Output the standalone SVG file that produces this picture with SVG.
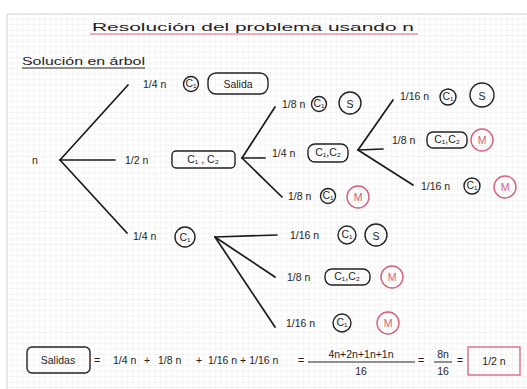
<svg xmlns="http://www.w3.org/2000/svg" width="527" height="389" viewBox="0 0 527 389">
<style>
.t{font-family:"Liberation Sans",Arial,sans-serif;fill:#1e1e1e;font-size:10.5px}
.tc{text-anchor:middle}
.ln{stroke:#1a1a1a;stroke-width:1.7;fill:none;stroke-linecap:round}
.c{fill:none;stroke:#222;stroke-width:1.4}
.m{fill:none;stroke:#d6607c;stroke-width:1.4}
.mt{fill:#d6607c}
.bx{fill:none;stroke:#222;stroke-width:1.4}
</style>
<defs>
<pattern id="grid" x="7" y="14" width="5.5" height="5.5" patternUnits="userSpaceOnUse">
<path d="M5.5 0V5.5H0" fill="none" stroke="#dedede" stroke-width="0.6"/>
</pattern>
</defs>
<rect width="527" height="389" fill="#fff"/>
<rect x="7" y="14" width="520" height="375" fill="url(#grid)"/>
<line x1="7" y1="14" x2="527" y2="14" stroke="#cfcfcf" stroke-width="1"/>
<line x1="7" y1="14" x2="7" y2="389" stroke="#cfcfcf" stroke-width="1"/>

<g id="title">
<text class="t" x="92" y="31" font-size="16" textLength="322" lengthAdjust="spacingAndGlyphs">Resolución del problema usando n</text>
<line x1="90" y1="34" x2="418" y2="34" stroke="#d6607c" stroke-width="1.2"/>
</g>
<g id="subtitle">
<text class="t" x="22" y="65" font-size="11" textLength="123" lengthAdjust="spacingAndGlyphs">Solución en árbol</text>
<line x1="22" y1="68" x2="145" y2="68" stroke="#222" stroke-width="1"/>
</g>

<g id="connectors">
<line class="ln" x1="60" y1="160" x2="128" y2="85"/>
<line class="ln" x1="60" y1="160" x2="115" y2="160"/>
<line class="ln" x1="60" y1="160" x2="127" y2="233"/>
<line class="ln" x1="242" y1="158" x2="275" y2="107"/>
<line class="ln" x1="242" y1="158" x2="265" y2="158"/>
<line class="ln" x1="242" y1="158" x2="282" y2="197"/>
<line class="ln" x1="358" y1="150" x2="393" y2="100"/>
<line class="ln" x1="358" y1="150" x2="383" y2="149"/>
<line class="ln" x1="358" y1="150" x2="413" y2="185"/>
<line class="ln" x1="215" y1="237" x2="277" y2="235"/>
<line class="ln" x1="215" y1="237" x2="275" y2="277"/>
<line class="ln" x1="215" y1="237" x2="275" y2="327"/>
</g>

<g id="root"><text class="t" x="32" y="164" font-size="13">n</text></g>

<g id="nA">
<text class="t" x="143" y="88">1/4 n</text>
<circle class="c" cx="191" cy="84" r="7.5"/><text class="t tc" x="191" y="87" font-size="8">C₁</text>
<rect class="bx" x="208" y="73" width="60" height="21" rx="8"/><text class="t tc" x="238" y="88" font-size="11">Salida</text>
</g>
<g id="nB">
<text class="t" x="125" y="164">1/2 n</text>
<rect class="bx" x="172" y="151" width="63" height="17" rx="4"/><text class="t tc" x="203" y="163" font-size="10">C₁ , C₂</text>
</g>
<g id="nC">
<text class="t" x="133" y="240">1/4 n</text>
<circle class="c" cx="185" cy="237" r="10"/><text class="t tc" x="185" y="241" font-size="9">C₁</text>
</g>

<g id="nB1">
<text class="t" x="282" y="108">1/8 n</text>
<circle class="c" cx="319" cy="104" r="7.5"/><text class="t tc" x="319" y="107" font-size="8">C₁</text>
<circle class="c" cx="350" cy="103" r="11"/><text class="t tc" x="350" y="108" font-size="13">S</text>
</g>
<g id="nB2">
<text class="t" x="272" y="157">1/4 n</text>
<rect class="bx" x="308" y="144" width="40" height="18" rx="7"/><text class="t tc" x="328" y="156" font-size="8.5">C₁,C₂</text>
</g>
<g id="nB3">
<text class="t" x="288" y="200">1/8 n</text>
<circle class="c" cx="328" cy="196" r="7.5"/><text class="t tc" x="328" y="199" font-size="8">C₁</text>
<circle class="m" cx="358" cy="197" r="11"/><text class="t tc mt" x="358" y="201" font-size="11">M</text>
</g>

<g id="nB2a">
<text class="t" x="400" y="100">1/16 n</text>
<circle class="c" cx="448" cy="97" r="8"/><text class="t tc" x="448" y="100" font-size="8">C₁</text>
<circle class="c" cx="482" cy="95" r="12"/><text class="t tc" x="482" y="100" font-size="14">S</text>
</g>
<g id="nB2b">
<text class="t" x="392" y="144">1/8 n</text>
<rect class="bx" x="427" y="132" width="40" height="16" rx="6"/><text class="t tc" x="447" y="143" font-size="8.5">C₁,C₂</text>
<circle class="m" cx="482" cy="140" r="11"/><text class="t tc mt" x="482" y="144" font-size="11">M</text>
</g>
<g id="nB2c">
<text class="t" x="421" y="190">1/16 n</text>
<circle class="c" cx="472" cy="186" r="8"/><text class="t tc" x="472" y="189" font-size="8">C₁</text>
<circle class="m" cx="505" cy="187" r="11"/><text class="t tc mt" x="505" y="191" font-size="11">M</text>
</g>

<g id="nC1">
<text class="t" x="290" y="239">1/16 n</text>
<circle class="c" cx="347" cy="235" r="9"/><text class="t tc" x="347" y="238" font-size="8.5">C₁</text>
<circle class="c" cx="376" cy="235" r="11"/><text class="t tc" x="376" y="240" font-size="13">S</text>
</g>
<g id="nC2">
<text class="t" x="287" y="281">1/8 n</text>
<rect class="bx" x="325" y="269" width="45" height="16" rx="7"/><text class="t tc" x="347" y="280" font-size="8.5">C₁,C₂</text>
<circle class="m" cx="392" cy="277" r="11"/><text class="t tc mt" x="392" y="281" font-size="11">M</text>
</g>
<g id="nC3">
<text class="t" x="286" y="327">1/16 n</text>
<circle class="c" cx="342" cy="323" r="9"/><text class="t tc" x="342" y="326" font-size="8.5">C₁</text>
<circle class="m" cx="388" cy="323" r="11"/><text class="t tc mt" x="388" y="327" font-size="11">M</text>
</g>

<g id="formula">
<rect class="bx" x="27" y="347" width="63" height="26" rx="5"/>
<text class="t tc" x="58" y="364" font-size="11">Salidas</text>
<text class="t" x="94" y="364">=</text>
<text class="t" x="113" y="364">1/4 n</text>
<text class="t" x="144" y="364">+</text>
<text class="t" x="158" y="364">1/8 n</text>
<text class="t" x="196" y="364">+</text>
<text class="t" x="208" y="364">1/16 n + 1/16 n</text>
<text class="t" x="298" y="364">=</text>
<text class="t tc" x="361" y="358">4n+2n+1n+1n</text>
<line x1="308" y1="362" x2="415" y2="362" stroke="#222" stroke-width="1"/>
<text class="t tc" x="361" y="375">16</text>
<text class="t" x="418" y="364">=</text>
<text class="t tc" x="443" y="358">8n</text>
<line x1="434" y1="362" x2="452" y2="362" stroke="#222" stroke-width="1"/>
<text class="t tc" x="443" y="375">16</text>
<text class="t" x="457" y="364">=</text>
<rect x="468" y="347" width="52" height="28" fill="none" stroke="#d6607c" stroke-width="1.3"/>
<text class="t tc" x="494" y="365" font-size="11">1/2 n</text>
</g>
</svg>
